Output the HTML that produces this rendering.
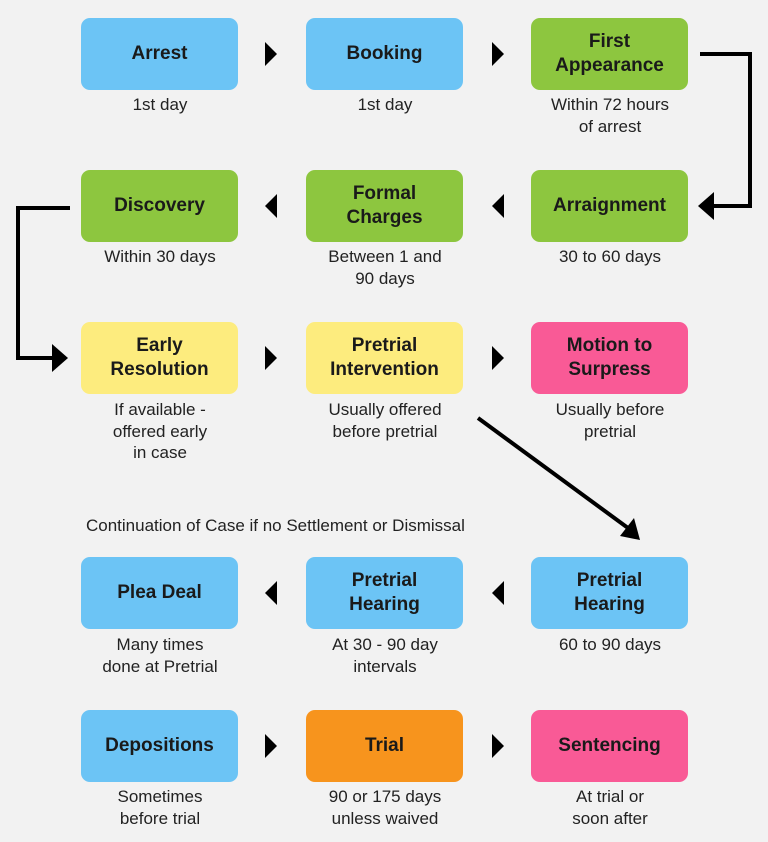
<!DOCTYPE html>
<html><head><style>
body{margin:0;width:768px;height:842px;background:#f2f2f2;position:relative;font-family:"Liberation Sans",sans-serif;overflow:hidden}
.b{position:absolute;width:157px;height:72px;border-radius:9px;display:flex;align-items:center;justify-content:center;text-align:center;font-weight:bold;font-size:19px;line-height:24px;color:#1a1a1a}
.c{position:absolute;width:200px;text-align:center;font-size:17px;line-height:21.5px;color:#222}
.bl{background:#6cc4f5}.g{background:#8dc63f}.y{background:#fdec7e}.p{background:#f95a96}.o{background:#f7941d}
</style></head><body>
<svg width="768" height="842" style="position:absolute;left:0;top:0">
<g fill="#000">
<polygon points="265,42 277,54 265,66"/><polygon points="492,42 504,54 492,66"/>
<polygon points="277,194 265,206 277,218"/><polygon points="504,194 492,206 504,218"/>
<polygon points="265,346 277,358 265,370"/><polygon points="492,346 504,358 492,370"/>
<polygon points="277,581 265,593 277,605"/><polygon points="504,581 492,593 504,605"/>
<polygon points="265,734 277,746 265,758"/><polygon points="492,734 504,746 492,758"/>
<polygon points="698,206 714,192 714,220"/>
<polygon points="68,358 52,344 52,372"/>
<polygon points="640,540 620,536 634,518"/>
</g>
<g stroke="#000" stroke-width="4" fill="none">
<polyline points="700,54 750,54 750,206 712,206"/>
<polyline points="70,208 18,208 18,358 54,358"/>
<line x1="478" y1="418" x2="628" y2="528"/>
</g>
</svg>
<div class="b bl" style="left:81px;top:18px">Arrest</div>
<div class="b bl" style="left:306px;top:18px">Booking</div>
<div class="b g" style="left:531px;top:18px">First<br>Appearance</div>
<div class="b g" style="left:81px;top:170px">Discovery</div>
<div class="b g" style="left:306px;top:170px">Formal<br>Charges</div>
<div class="b g" style="left:531px;top:170px">Arraignment</div>
<div class="b y" style="left:81px;top:322px">Early<br>Resolution</div>
<div class="b y" style="left:306px;top:322px">Pretrial<br>Intervention</div>
<div class="b p" style="left:531px;top:322px">Motion to<br>Surpress</div>
<div class="b bl" style="left:81px;top:557px">Plea Deal</div>
<div class="b bl" style="left:306px;top:557px">Pretrial<br>Hearing</div>
<div class="b bl" style="left:531px;top:557px">Pretrial<br>Hearing</div>
<div class="b bl" style="left:81px;top:710px">Depositions</div>
<div class="b o" style="left:306px;top:710px">Trial</div>
<div class="b p" style="left:531px;top:710px">Sentencing</div>
<div class="c" style="left:60px;top:94px">1st day</div>
<div class="c" style="left:285px;top:94px">1st day</div>
<div class="c" style="left:510px;top:94px">Within 72 hours<br>of arrest</div>
<div class="c" style="left:60px;top:246px">Within 30 days</div>
<div class="c" style="left:285px;top:246px">Between 1 and<br>90 days</div>
<div class="c" style="left:510px;top:246px">30 to 60 days</div>
<div class="c" style="left:60px;top:399px">If available -<br>offered early<br>in case</div>
<div class="c" style="left:285px;top:399px">Usually offered<br>before pretrial</div>
<div class="c" style="left:510px;top:399px">Usually before<br>pretrial</div>
<div class="c" style="left:86px;top:515px;width:460px;text-align:left">Continuation of Case if no Settlement or Dismissal</div>
<div class="c" style="left:60px;top:634px">Many times<br>done at Pretrial</div>
<div class="c" style="left:285px;top:634px">At 30 - 90 day<br>intervals</div>
<div class="c" style="left:510px;top:634px">60 to 90 days</div>
<div class="c" style="left:60px;top:786px">Sometimes<br>before trial</div>
<div class="c" style="left:285px;top:786px">90 or 175 days<br>unless waived</div>
<div class="c" style="left:510px;top:786px">At trial or<br>soon after</div>
</body></html>
